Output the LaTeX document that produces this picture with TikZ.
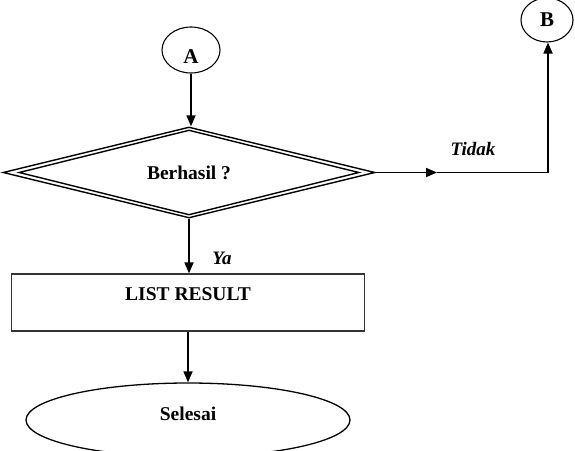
\documentclass[tikz,border=0pt]{standalone}
\usepackage{fontspec}
\setmainfont{Liberation Serif}
\usetikzlibrary{shapes.geometric,arrows.meta,calc}
\begin{document}
\begin{tikzpicture}[x=1pt,y=-1pt,
  every node/.style={font=\fontsize{19.5}{22}\selectfont\bfseries},
  conn/.style={draw, ellipse, line width=1.1pt, inner sep=0pt},
  arr/.style={line width=1.7pt, -{Triangle[length=11pt,width=9pt]}},
  ln/.style={line width=1.7pt},
  lbl/.style={font=\fontsize{19}{22}\selectfont\bfseries\itshape}]
\useasboundingbox (0,0) rectangle (575,450);
\clip (0,0) rectangle (575,450);
% terminators / connectors
\node[conn, minimum width=58pt, minimum height=46pt, font=\fontsize{21}{24}\selectfont\bfseries,
      text height=27pt, text depth=0pt] (A) at (191,50) {A};
\node[conn, minimum width=52pt, minimum height=44pt, font=\fontsize{21}{24}\selectfont\bfseries] (B) at (547,20) {B};
% decision
\node[diamond, draw, line width=1.4pt, aspect=4, inner sep=0pt,
      minimum width=372pt, minimum height=91pt] (dec) at (189,172.5) {Berhasil ?};
\draw[line width=1.4pt] ($(dec.west)+(17,0)$) -- ($(dec.north)+(0,4)$) -- ($(dec.east)+(-17,0)$) -- ($(dec.south)+(0,-4)$) -- cycle;
% process
\node[draw, line width=1.3pt, draw=black!80, inner xsep=0pt, inner ysep=0pt,
      minimum width=353pt, text height=26.5pt, text depth=30.5pt] (box) at (188,302.5) {LIST RESULT};
% end
\node[conn, line width=1.3pt, minimum width=324pt, minimum height=74pt,
      text height=13pt, text depth=12pt] (end) at (188,420) {Selesai};
% connectors
\coordinate (m1) at (437,172.5);
\coordinate (c1) at (548,172.5);
\draw[arr] (A.south) -- (A.south |- dec.north);
\draw[arr] (dec.east) -- (m1);
\draw[ln] (m1) -- (c1);
\draw[arr] (c1) -- (c1 |- B.south);
\draw[arr] (dec.south) -- (dec.south |- box.north);
\draw[arr] (box.south) -- (box.south |- end.north);
% labels
\node[lbl] (tidak) at (473,149) {Tidak};
\node[lbl] (ya) at (222,258) {Ya};
\end{tikzpicture}
\end{document}
